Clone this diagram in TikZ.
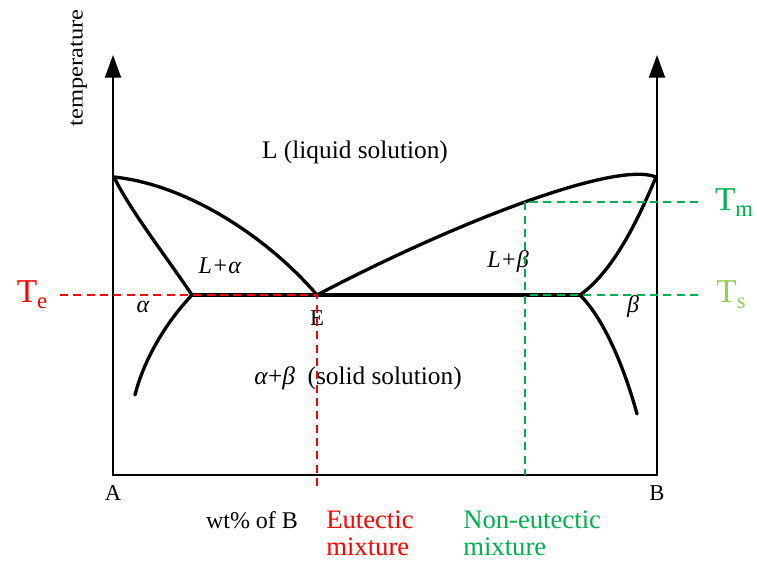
\documentclass[tikz,border=0pt]{standalone}
\usepackage{fontspec}
\setmainfont{Liberation Serif}
\usepackage{graphicx}
\usetikzlibrary{arrows.meta}
\definecolor{eutred}{HTML}{FF0000}
\definecolor{neugreen}{HTML}{00B050}
\definecolor{solgreen}{HTML}{92D050}
\newcommand{\fsz}[1]{\fontsize{#1}{#1}\selectfont}
\newcommand{\Tsub}[1]{T\raisebox{-0.4ex}{\fsz{17}#1}}

\begin{document}
\begin{tikzpicture}[x=0.75pt, y=-0.75pt,
  axis/.style={line width=1.5pt, {Triangle[length=17pt,width=12pt]}-{Triangle[length=17pt,width=12pt]}},
  phase/.style={line width=2.5pt, line cap=round, line join=round},
  lbl/.style={font=\fsz{18}, inner sep=0pt},
  tlab/.style={font=\fsz{25}, inner sep=0pt},
  note/.style={font=\fsz{20}, inner sep=0pt, align=left, anchor=west},
  eut/.style={draw=eutred, line width=1.1pt, dash pattern=on 6pt off 4pt},
  neut/.style={draw=neugreen, line width=1.1pt, dash pattern=on 6pt off 4pt},
]
\useasboundingbox (0,0) rectangle (757,561);
% axes
\coordinate (O) at (113,475);
\coordinate (Bx) at (657,475);
\coordinate (topA) at (113,55);
\coordinate (topB) at (657,55);
% phase points
\coordinate (mA) at (114,177);
\coordinate (mB) at (656,177);
\coordinate (E) at (317,295);
\coordinate (sa) at (192,295);
\coordinate (sb) at (580,295);
\coordinate (ea) at (135,395);
\coordinate (eb) at (637,414);
% dashed guide ends
\coordinate (teL) at (60,295);
\coordinate (tmR) at (698,202);
\coordinate (tsR) at (698,295);
\coordinate (Ebot) at (317,487);
\coordinate (nm) at (525,202);
\coordinate (ns) at (525,295);
\coordinate (nbot) at (525,475);

\draw[axis] (topA) -- (O) -- (Bx) -- (topB);
\node[lbl, rotate=90] (temp) at (79,68) {\fsz{16}\scalebox{1.15}[1]{temperature}};
\node[lbl, font=\fsz{17}] (lblA) at (113,493) {A};
\node[lbl, font=\fsz{17}] (lblB) at (657,493) {B};
\node[lbl] (wt) at (252,520) {wt\% of B};

% phase boundaries
\draw[phase] (mA) .. controls (190,185) and (270,240) .. (E);
\draw[phase] (mA) .. controls (130,210) and (165,255) .. (sa);
\draw[phase] (sa) .. controls (170,318) and (145,355) .. (ea);
\draw[phase] (E) .. controls (450,225) and (615,160) .. (mB);
\draw[phase] (mB) .. controls (640,215) and (615,270) .. (sb);
\draw[phase] (sb) .. controls (605,320) and (625,370) .. (eb);
\draw[phase, line width=3pt] (sa) -- (sb);

% regions
\node[lbl, font=\fsz{19}] (liq) at (355,152) {L (liquid solution)};
\node[lbl, font=\fsz{19}] (sol) at (358,378) {\textit{α}+\textit{β}\ \ (solid solution)};
\node[lbl] (La) at (220,266) {\textit{L+α}};
\node[lbl] (al) at (143,307) {\textit{α}};
\node[lbl] (Lb) at (508,262) {\textit{L+β}};
\node[lbl] (be) at (633,307) {\textit{β}};
\node[lbl, font=\fsz{17}] (lblE) at (317,318) {E};

% guides
\draw[eut] (teL) -- (E) -- (Ebot);
\draw[neut] (tmR) -- (nm) -- (nbot);
\draw[neut] (tsR) -- (ns);
\node[tlab, text=eutred] (Te) at (32,295) {\Tsub{e}};
\node[tlab, text=neugreen] (Tm) at (734,203) {\Tsub{m}};
\node[tlab, text=solgreen] (Ts) at (731,295) {\Tsub{s}};
\node[note, text=eutred] (eumix) at (326,533) {Eutectic\\mixture};
\node[note, text=neugreen] (nemix) at (463,533) {Non-eutectic\\mixture};
\end{tikzpicture}
\end{document}
